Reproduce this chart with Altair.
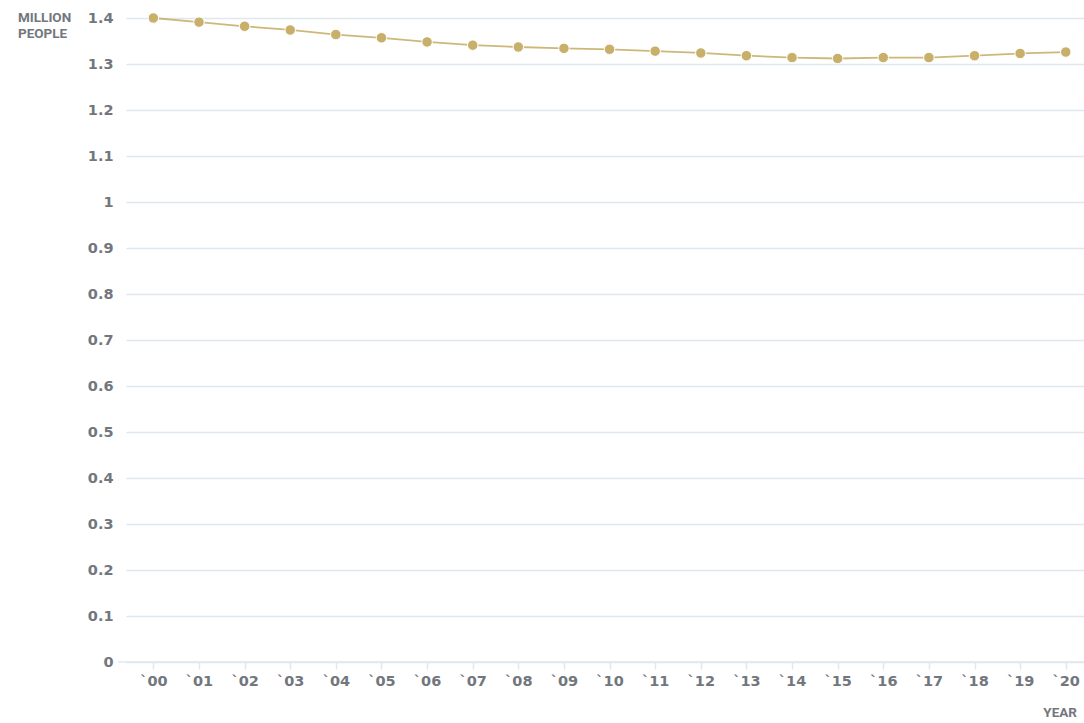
import altair as alt
import pandas as pd

# Population, million people, by year (2000-2020)
years = list(range(0, 21))
population = [1.400, 1.391, 1.382, 1.374, 1.364, 1.357, 1.348, 1.341, 1.337, 1.334,
              1.332, 1.328, 1.324, 1.318, 1.314, 1.312, 1.314, 1.314, 1.318, 1.323, 1.326]
y_ticks = [round(i * 0.1, 1) for i in range(15)]

df = pd.DataFrame({"year": years, "population": population})

GOLD = "#c8b06b"
GRID = "#dfe7ef"
TEXT = "#72777e"
FONT = "DejaVu Sans"

x_enc = alt.X(
    "year:Q",
    scale=alt.Scale(domain=[-0.6, 20.4], nice=False, zero=False),
    axis=alt.Axis(
        values=years,
        labelExpr="'`' + (datum.value < 10 ? '0' : '') + datum.value",
        title=None, grid=False, domain=False,
        ticks=True, tickSize=7, tickColor=GRID, tickWidth=1.5,
        labelFont=FONT, labelFontSize=14.5, labelFontWeight="bold",
        labelColor=TEXT, labelPadding=5, labelFlush=False,
    ),
)
y_enc = alt.Y(
    "population:Q",
    scale=alt.Scale(domain=[0, 1.4], nice=False),
    axis=alt.Axis(
        values=y_ticks, format=".1~f", title=None,
        grid=True, gridColor=GRID, gridWidth=1.5,
        domain=False, ticks=False,
        labelFont=FONT, labelFontSize=14.5, labelFontWeight="bold",
        labelColor=TEXT, labelPadding=13,
    ),
)

base = alt.Chart(df)
line = base.mark_line(color=GOLD, strokeWidth=1.8, opacity=0.9).encode(x=x_enc, y=y_enc)
points = base.mark_circle(color=GOLD, size=110, opacity=1, stroke="white", strokeWidth=1).encode(
    x="year:Q", y="population:Q"
)

baseline = alt.Chart(pd.DataFrame({"v": [0]})).mark_rule(color=GRID, strokeWidth=1.5).encode(
    x=alt.value(-8), x2=alt.value(958), y=alt.Y("v:Q")
)

unit_label = alt.Chart(pd.DataFrame({"t": ["MILLION", "PEOPLE"], "py": [0, 16]})).mark_text(
    align="left", baseline="middle", font="Roboto", fontSize=13.5,
    fontWeight="bold", color=TEXT,
).encode(text="t:N", x=alt.value(-108), y=alt.Y("py:Q", scale=None, axis=None))

year_label = alt.Chart(pd.DataFrame({"t": ["YEAR"]})).mark_text(
    align="right", baseline="middle", font="Roboto", fontSize=13.5,
    fontWeight="bold", color=TEXT,
).encode(text="t:N", x=alt.value(951), y=alt.value(695))

chart = alt.layer(baseline, line, points, unit_label, year_label).properties(
    width=958, height=644,
    background="white",
    autosize=alt.AutoSizeParams(type="none"),
    padding={"left": 126, "top": 18, "right": 0, "bottom": 61},
).configure_view(strokeWidth=0, stroke="transparent")

chart.save("out.html", embed_options={"renderer": "svg", "actions": False})
